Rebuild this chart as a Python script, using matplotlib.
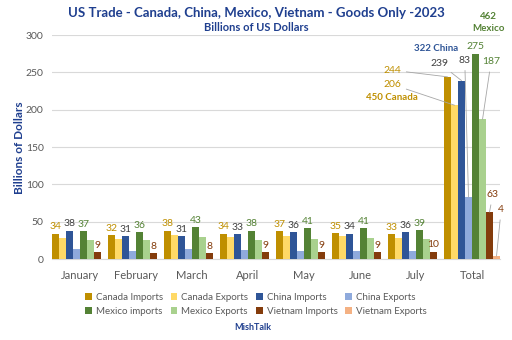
import matplotlib
matplotlib.use("Agg")
import matplotlib.pyplot as plt
import numpy as np

plt.rcParams['font.family'] = ['Lato', 'DejaVu Sans']

categories = ['January', 'February', 'March', 'April', 'May', 'June', 'July', 'Total']
series_names = ['Canada Imports', 'Canada Exports', 'China Imports', 'China Exports',
                'Mexico imports', 'Mexico Exports', 'Vietnam Imports', 'Vietnam Exports']

canada_imports = [34, 32, 38, 34, 37, 35, 33, 244]
canada_exports = [28, 27, 32, 29, 31, 31, 28, 206]
china_imports = [38, 31, 31, 33, 36, 34, 36, 239]
china_exports = [13, 11, 14, 12, 11, 11, 11, 83]
mexico_imports = [37, 36, 43, 38, 41, 41, 39, 275]
mexico_exports = [26, 25, 29, 25, 27, 28, 27, 187]
vietnam_imports = [9, 8, 8, 9, 9, 9, 10, 63]
vietnam_exports = [0.5, 0.5, 0.6, 0.6, 0.6, 0.6, 0.6, 4]

country_totals = {'Canada': 450, 'China': 322, 'Mexico': 462}

series = [canada_imports, canada_exports, china_imports, china_exports,
          mexico_imports, mexico_exports, vietnam_imports, vietnam_exports]
colors = ['#BF8F00', '#FFD966', '#2F5597', '#8FAADC',
          '#548235', '#A9D18E', '#843C0C', '#F4B183']
label_colors = {0: '#BF8F00', 2: '#404040', 4: '#548235', 6: '#843C0C'}

title_blue = '#1F3F8F'
grey = '#595959'

fig = plt.figure(figsize=(5.12, 3.4), dpi=100)
ax = fig.add_axes([0.1016, 0.238, 0.875, 0.659])

x = np.arange(len(categories))
w = 0.125
handles = []
for i, (vals, c) in enumerate(zip(series, colors)):
    xs = x + (i - 3.5) * w
    handles.append(ax.bar(xs, vals, width=w, color=c, label=series_names[i], zorder=3))
    # monthly value labels on the import series
    if i in label_colors:
        for xi, v in zip(xs[:-1], vals[:-1]):
            ax.text(xi, v + 3, f'{v:g}', ha='center', va='bottom',
                    fontsize=7.5, color=label_colors[i], zorder=4)

# labels for the Total group, with leader lines
t = len(categories) - 1
def bar_x(i):
    return t + (i - 3.5) * w

line_kw = dict(arrowstyle='-', color='#A6A6A6', lw=0.6, shrinkA=2, shrinkB=0)
total_labels = [
    (0, 5.57, 253, '#BF8F00'),
    (1, 5.57, 234, '#BF8F00'),
    (2, 6.42, 262, '#404040'),
    (3, 6.87, 266, '#404040'),
    (5, 7.34, 264, '#548235'),
    (6, 7.37, 86, '#843C0C'),
    (7, 7.52, 66, '#843C0C'),
]
for i, tx, ty, c in total_labels:
    v = series[i][t]
    ax.annotate(f'{v:g}', xy=(bar_x(i), v), xytext=(tx, ty),
                ha='center', va='center', fontsize=7.5, color=c,
                arrowprops=line_kw, annotation_clip=False, zorder=5)
ax.text(bar_x(4), mexico_imports[t] + 4, f'{mexico_imports[t]:g}', ha='center',
        va='bottom', fontsize=7.5, color='#548235')

ax.text(5.57, 217, f"{country_totals['Canada']} Canada", ha='center', va='center',
        fontsize=7, fontweight='bold', color='#BF8F00')
ax.text(6.36, 282, f"{country_totals['China']} China", ha='center', va='center',
        fontsize=7, fontweight='bold', color='#2F5597')
ax.text(7.29, 317, f"{country_totals['Mexico']}\nMexico", ha='center', va='center',
        fontsize=7, fontweight='bold', color='#548235', linespacing=1.5, clip_on=False)

ax.set_xlim(-0.5, len(categories) - 0.5)
ax.set_ylim(0, 300)
ax.set_yticks(np.arange(0, 301, 50))
ax.set_xticks(x)
ax.set_xticklabels(categories)
ax.tick_params(axis='both', length=0, colors=grey, labelsize=8)
ax.tick_params(axis='x', pad=8)
ax.tick_params(axis='y', labelsize=7.5, pad=6)
ax.grid(axis='y', color='#D9D9D9', lw=0.8, zorder=0)
for s in ['top', 'right', 'left']:
    ax.spines[s].set_visible(False)
ax.spines['bottom'].set_color('#D9D9D9')

fig.text(0.039, 0.565, 'Billions of Dollars', rotation=90, ha='center', va='center',
         fontsize=8.5, fontweight='bold', color=title_blue)

fig.text(0.5, 0.962, 'US Trade - Canada, China, Mexico, Vietnam - Goods Only -2023',
         ha='center', va='center', fontsize=9.5, fontweight='bold', color=title_blue)
fig.text(0.5, 0.918, 'Billions of US Dollars', ha='center', va='center',
         fontsize=8, fontweight='bold', color=title_blue)

# legend filled row by row
order = [0, 4, 1, 5, 2, 6, 3, 7]
fig.legend([handles[k] for k in order], [series_names[k] for k in order],
           loc='center', bbox_to_anchor=(0.5, 0.105), ncol=4, frameon=False,
           fontsize=7, labelcolor=grey, handlelength=0.7, handleheight=0.7,
           handletextpad=0.4, columnspacing=0.8, labelspacing=0.5)

fig.text(0.494, 0.038, 'MishTalk', ha='center', va='center', fontsize=6.5,
         fontweight='bold', color=title_blue)

fig.savefig('out.png', dpi=100)
